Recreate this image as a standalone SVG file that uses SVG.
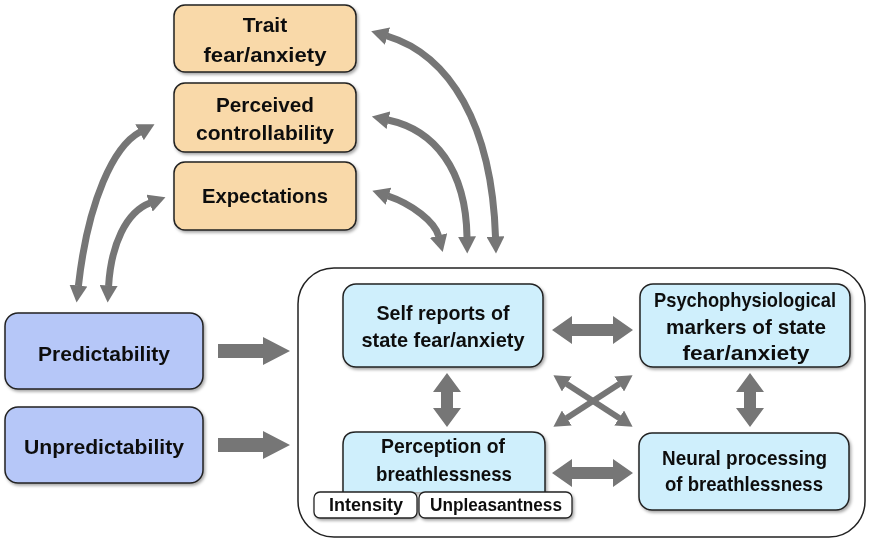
<svg xmlns="http://www.w3.org/2000/svg" width="878" height="541" viewBox="0 0 878 541">
<defs>
<style>
.t{font-family:"Liberation Sans",Arial,sans-serif;font-weight:bold;font-size:21px;fill:#111;text-anchor:middle}
.s{font-size:18px}
.or{fill:#F9D9A9;stroke:#222;stroke-width:1.5}
.bl{fill:#B6C7F8;stroke:#222;stroke-width:1.5}
.cy{fill:#CFEFFC;stroke:#222;stroke-width:1.5}
.pill{fill:#fff;stroke:#222;stroke-width:1.3}
.cv{fill:none;stroke:#767676;stroke-width:7;marker-start:url(#ah);marker-end:url(#ah)}
.xl{fill:none;stroke:#767676;stroke-width:6;marker-start:url(#ah2);marker-end:url(#ah2)}
.blk{fill:#767676}
</style>
<filter id="sh" x="-10%" y="-10%" width="120%" height="130%">
<feDropShadow dx="1.5" dy="2" stdDeviation="1.5" flood-color="#000" flood-opacity="0.35"/>
</filter>
<marker id="ah" viewBox="0 0 18 18" markerWidth="18" markerHeight="18" refX="0.5" refY="9" orient="auto-start-reverse" markerUnits="userSpaceOnUse">
<path d="M0,0 L17,9 L0,18 Z" fill="#767676"/>
</marker>
<marker id="ah2" viewBox="0 0 18 18" markerWidth="18" markerHeight="18" refX="0.5" refY="9" orient="auto-start-reverse" markerUnits="userSpaceOnUse">
<path d="M0,0 L16,9 L0,18 Z" fill="#767676"/>
</marker>
</defs>
<rect width="878" height="541" fill="#fff"/>

<g id="container">
<rect x="298" y="268" width="567" height="269" rx="36" fill="#fff" stroke="#222" stroke-width="1.5"/>
</g>

<g id="connectors">
<path class="cv" d="M387,36 C450,55 492,125 495.5,237"/>
<path class="cv" d="M388,120 C435,130 466,170 467,237"/>
<path class="cv" d="M388,196 C412,204 435,222 438.6,236"/>
<path class="cv" d="M78.4,286 C88,200 114,146 140,132"/>
<path class="cv" d="M108.6,286 C111,245 126,212 150,203"/>
<path class="blk" d="M218,344 L263,344 L263,337 L290,351 L263,365 L263,358 L218,358 Z"/>
<path class="blk" d="M218,438 L263,438 L263,431 L290,445 L263,459 L263,452 L218,452 Z"/>
<path class="blk" d="M552,330 L572,316 L572,324 L613,324 L613,316 L633,330 L613,344 L613,336 L572,336 L572,344 Z"/>
<path class="blk" d="M552,473 L572,459 L572,467 L613,467 L613,459 L633,473 L613,487 L613,479 L572,479 L572,487 Z"/>
<path class="blk" d="M447,373 L461,392 L453,392 L453,408 L461,408 L447,427 L433,408 L441,408 L441,392 L433,392 Z"/>
<path class="blk" d="M750,373 L764,392 L756,392 L756,408 L764,408 L750,427 L736,408 L744,408 L744,392 L736,392 Z"/>
<path class="xl" d="M566.4,383.7 L619.6,418.3"/>
<path class="xl" d="M566.4,418.3 L619.6,383.7"/>
</g>

<g id="trait" filter="url(#sh)">
<rect class="or" x="174" y="5" width="182" height="67" rx="11"/>
<text class="t" x="265" y="32">Trait</text>
<text class="t" x="265" y="62" textLength="123" lengthAdjust="spacingAndGlyphs">fear/anxiety</text>
</g>
<g id="controllability" filter="url(#sh)">
<rect class="or" x="174" y="83" width="182" height="69" rx="11"/>
<text class="t" x="265" y="112" textLength="98" lengthAdjust="spacingAndGlyphs">Perceived</text>
<text class="t" x="265" y="140" textLength="138" lengthAdjust="spacingAndGlyphs">controllability</text>
</g>
<g id="expectations" filter="url(#sh)">
<rect class="or" x="174" y="162" width="182" height="68" rx="11"/>
<text class="t" x="265" y="203" textLength="126" lengthAdjust="spacingAndGlyphs">Expectations</text>
</g>

<g id="predictability" filter="url(#sh)">
<rect class="bl" x="5" y="313" width="198" height="76" rx="13"/>
<text class="t" x="104" y="361" textLength="132" lengthAdjust="spacingAndGlyphs">Predictability</text>
</g>
<g id="unpredictability" filter="url(#sh)">
<rect class="bl" x="5" y="407" width="198" height="76" rx="13"/>
<text class="t" x="104" y="454" textLength="160" lengthAdjust="spacingAndGlyphs">Unpredictability</text>
</g>

<g id="selfreports" filter="url(#sh)">
<rect class="cy" x="343" y="284" width="200" height="83" rx="13"/>
<text class="t" x="443" y="320" textLength="133" lengthAdjust="spacingAndGlyphs">Self reports of</text>
<text class="t" x="443" y="347" textLength="163" lengthAdjust="spacingAndGlyphs">state fear/anxiety</text>
</g>
<g id="psychophys" filter="url(#sh)">
<rect class="cy" x="640" y="284" width="210" height="83" rx="13"/>
<text class="t" x="745" y="307" textLength="182" lengthAdjust="spacingAndGlyphs">Psychophysiological</text>
<text class="t" x="746" y="333.5" textLength="160" lengthAdjust="spacingAndGlyphs">markers of state</text>
<text class="t" x="746" y="360" textLength="127" lengthAdjust="spacingAndGlyphs">fear/anxiety</text>
</g>
<g id="perception" filter="url(#sh)">
<path class="cy" d="M343,492 L343,445 Q343,432 356,432 L532,432 Q545,432 545,445 L545,492"/>
<text class="t" x="443" y="453" textLength="124" lengthAdjust="spacingAndGlyphs">Perception of</text>
<text class="t" x="444" y="481" textLength="136" lengthAdjust="spacingAndGlyphs">breathlessness</text>
</g>
<g id="intensity" filter="url(#sh)">
<rect class="pill" x="314" y="492" width="103" height="26" rx="6"/>
<text class="t s" x="366" y="511" textLength="74" lengthAdjust="spacingAndGlyphs">Intensity</text>
</g>
<g id="unpleasantness" filter="url(#sh)">
<rect class="pill" x="419" y="492" width="153" height="26" rx="6"/>
<text class="t s" x="496" y="511" textLength="132" lengthAdjust="spacingAndGlyphs">Unpleasantness</text>
</g>
<g id="neural" filter="url(#sh)">
<rect class="cy" x="639" y="433" width="210" height="77" rx="13"/>
<text class="t" x="744.5" y="465" textLength="165" lengthAdjust="spacingAndGlyphs">Neural processing</text>
<text class="t" x="744" y="491" textLength="158" lengthAdjust="spacingAndGlyphs">of breathlessness</text>
</g>
</svg>
